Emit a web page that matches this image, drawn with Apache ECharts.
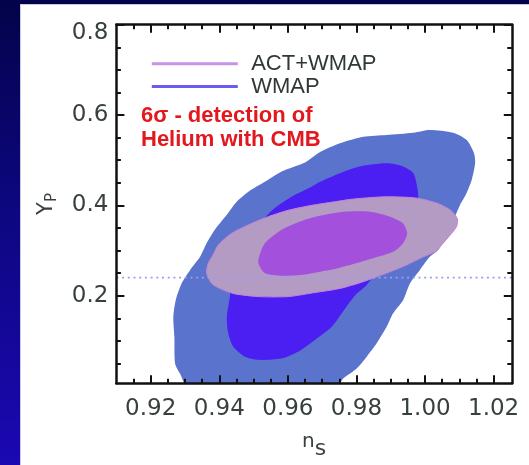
<!DOCTYPE html>
<html>
<head>
<meta charset="utf-8">
<script src="https://cdn.jsdelivr.net/npm/echarts@6/dist/echarts.min.js"></script>
<style>
  html, body { margin: 0; padding: 0; width: 529px; height: 465px; overflow: hidden; }
  body { background: linear-gradient(180deg, #03034a 0%, #0d0780 45%, #1b08b2 100%); position: relative; }
  #panel { position: absolute; left: 20px; top: 4px; right: 0; bottom: 0; background: #ffffff; border-left: 1px solid #c9c9e4; border-top: 1px solid #c9c9e4; box-sizing: border-box; }
  #chart { position: absolute; left: 0; top: 0; width: 529px; height: 465px; }
</style>
</head>
<body>
<div id="panel"></div>
<div id="chart"></div>
<script>
// ---- axis ranges & ticks ----
const xMin = 0.91, xMax = 1.0253;
const yMin = 0.006, yMax = 0.8;
const xMajorTicks = [0.92, 0.94, 0.96, 0.98, 1.00, 1.02];
const xMinorTicks = [0.915, 0.925, 0.93, 0.935, 0.945, 0.95, 0.955, 0.965, 0.97, 0.975, 0.985, 0.99, 0.995, 1.005, 1.01, 1.015];
const yMajorTicks = [0.2, 0.4, 0.6, 0.8];
const yMinorTicks = [0.05, 0.1, 0.15, 0.25, 0.3, 0.35, 0.45, 0.5, 0.55, 0.65, 0.7, 0.75];

// ---- BBN prediction (dotted line) ----
const bbnYp = 0.24;

// ---- contours [n_s, Y_P] ----
const wmap95 = [[0.9363,0.316],[0.9344,0.286],[0.9315,0.257],[0.9290,0.227],[0.9273,0.190],[0.9266,0.153],[0.9269,0.109],[0.9271,0.050],[0.9285,0.028],[0.9315,-0.01],[0.9732,-0.01],[0.9762,0.017],[0.9801,0.039],[0.9830,0.065],[0.9859,0.0945],[0.9888,0.131],[0.9907,0.161],[0.9936,0.190],[0.9956,0.227],[0.9985,0.257],[1.0014,0.286],[1.0038,0.301],[1.0064,0.339],[1.0087,0.375],[1.0102,0.401],[1.0121,0.427],[1.0136,0.456],[1.0146,0.493],[1.0143,0.515],[1.0121,0.545],[1.0082,0.561],[1.0014,0.567],[0.9966,0.561],[0.9888,0.556],[0.9820,0.552],[0.9752,0.5375],[0.9694,0.518],[0.9650,0.495],[0.9582,0.475],[0.9533,0.452],[0.9485,0.430],[0.9451,0.408],[0.9422,0.379],[0.9387,0.346]];
const wmap68 = [[0.9533,0.372],[0.9460,0.290],[0.9434,0.224],[0.9431,0.198],[0.9422,0.153],[0.9426,0.117],[0.9441,0.087],[0.9475,0.065],[0.9514,0.058],[0.9582,0.061],[0.9630,0.076],[0.9679,0.102],[0.9728,0.131],[0.9771,0.176],[0.9801,0.205],[0.9825,0.220],[0.9869,0.261],[0.9918,0.312],[0.9962,0.368],[0.9980,0.416],[0.9977,0.441],[0.9966,0.471],[0.9936,0.486],[0.9888,0.493],[0.9810,0.486],[0.9752,0.471],[0.9694,0.452],[0.9669,0.441],[0.9611,0.419],[0.9562,0.394]];
const act95 = [[0.9737,0.408],[0.9791,0.414],[0.9888,0.419],[0.9976,0.416],[1.0034,0.405],[1.0073,0.390],[1.0094,0.371],[1.0092,0.353],[1.0073,0.334],[1.0048,0.312],[1.0034,0.299],[0.9995,0.286],[0.9946,0.268],[0.9888,0.250],[0.9820,0.231],[0.9752,0.216],[0.9679,0.207],[0.9601,0.198],[0.9514,0.198],[0.9446,0.204],[0.9407,0.214],[0.9378,0.227],[0.9363,0.250],[0.9368,0.272],[0.9383,0.292],[0.9397,0.312],[0.9436,0.338],[0.9494,0.360],[0.9543,0.375],[0.9601,0.389],[0.9669,0.400]];
const act68 = [[0.9762,0.386],[0.9839,0.386],[0.9898,0.375],[0.9936,0.360],[0.9948,0.338],[0.9936,0.316],[0.9907,0.297],[0.9849,0.283],[0.9771,0.266],[0.9737,0.259],[0.9694,0.253],[0.9650,0.247],[0.9582,0.244],[0.9533,0.250],[0.9514,0.272],[0.9516,0.286],[0.9533,0.316],[0.9582,0.346],[0.9650,0.368],[0.9694,0.377]];

const ink = '#111111';
const labelColor = '#37403b';
const tickFont = 'DejaVu Sans';

function contourSeries(name, pts, fill, stroke) {
  return {
    type: 'custom', name: name, data: pts, clip: true, silent: true,
    xAxisIndex: 0, yAxisIndex: 0,
    encode: { x: 0, y: 1 },
    renderItem: function (params, api) {
      if (params.dataIndex !== 0) return null;
      const points = pts.map(function (p) { return api.coord(p); });
      return {
        type: 'polygon',
        shape: { points: points, smooth: 0.25 },
        style: { fill: fill, stroke: stroke || null, lineWidth: stroke ? 1 : 0 }
      };
    }
  };
}

function tickAxis(pos, ticks, len, showLine, extra) {
  const isX = (pos === 'top' || pos === 'bottom');
  const base = {
    type: 'value', position: pos, z: 10,
    min: isX ? xMin : yMin, max: isX ? xMax : yMax,
    axisLine: { show: showLine, onZero: false, lineStyle: { color: ink, width: 2.5 } },
    axisTick: { show: true, inside: true, length: len, customValues: ticks, lineStyle: { color: ink, width: 2 } },
    axisLabel: { show: false },
    splitLine: { show: false }
  };
  return Object.assign(base, extra || {});
}

const chart = echarts.init(document.getElementById('chart'), null, { renderer: 'canvas' });
chart.setOption({
  animation: false,
  backgroundColor: 'transparent',
  grid: { left: 116.4, top: 24.7, width: 395.4, height: 358.6, containLabel: false },
  legend: {
    orient: 'vertical', left: 151.8, top: 52.8, padding: 0,
    itemWidth: 86, itemHeight: 3, itemGap: 0.7, icon: 'rect',
    selectedMode: false,
    textStyle: { fontFamily: 'Liberation Sans', fontSize: 22, lineHeight: 22, color: '#2f3833', padding: [0, 0, 0, 8.4] },
    data: [
      { name: 'ACT+WMAP', itemStyle: { color: '#c793e8' } },
      { name: 'WMAP', itemStyle: { color: '#6a5cf0' } }
    ]
  },
  xAxis: [
    tickAxis('bottom', xMajorTicks, 8, true, {
      axisLabel: {
        show: true, customValues: xMajorTicks, margin: 14,
        formatter: function (v) { return v.toFixed(2); },
        fontFamily: tickFont, fontSize: 23, color: labelColor
      },
      name: '{n|n}{s|s}', nameLocation: 'middle', nameGap: 43.7,
      nameTextStyle: {
        color: labelColor, fontFamily: tickFont,
        rich: {
          n: { fontFamily: tickFont, fontSize: 20, lineHeight: 20, verticalAlign: 'top', color: labelColor },
          s: { fontFamily: tickFont, fontSize: 22, lineHeight: 22, padding: [12.8, 0, 0, 0], color: labelColor }
        }
      }
    }),
    tickAxis('bottom', xMinorTicks, 4.5, false),
    tickAxis('top', xMajorTicks, 8, true),
    tickAxis('top', xMinorTicks, 4.5, false)
  ],
  yAxis: [
    tickAxis('left', yMajorTicks, 8, true, {
      axisLabel: {
        show: true, customValues: yMajorTicks, margin: 8,
        formatter: function (v) { return v === 0.8 ? '{t|0.8}' : v.toFixed(1); },
        fontFamily: tickFont, fontSize: 23, color: labelColor,
        rich: { t: { fontFamily: tickFont, fontSize: 23, color: labelColor, padding: [16, 0, 0, 0] } }
      },
      name: '{y|Y}{p|P}', nameLocation: 'middle', nameGap: 58, nameRotate: 90,
      nameTextStyle: {
        color: labelColor, fontFamily: tickFont,
        rich: {
          y: { fontFamily: tickFont, fontSize: 21, lineHeight: 22, verticalAlign: 'top', color: labelColor },
          p: { fontFamily: tickFont, fontSize: 15, lineHeight: 15, padding: [9.5, 0, 0, 0], color: labelColor }
        }
      }
    }),
    tickAxis('left', yMinorTicks, 4.5, false),
    tickAxis('right', yMajorTicks, 8, true),
    tickAxis('right', yMinorTicks, 4.5, false)
  ],
  graphic: [
    {
      type: 'text', x: 141, y: 104.2, z: 20, silent: true,
      style: {
        text: '6σ - detection of\nHelium with CMB',
        font: 'bold 22px "Liberation Sans"', fill: '#e3171e',
        lineHeight: 24, verticalAlign: 'top', align: 'left'
      }
    }
  ],
  series: [
    {
      type: 'line', name: 'BBN', silent: true, symbol: 'none', xAxisIndex: 0, yAxisIndex: 0,
      data: [[xMin, bbnYp], [xMax, bbnYp]],
      lineStyle: { color: '#9c9cf0', width: 1.6, type: [2, 3.7] }
    },
    contourSeries('WMAP', wmap95, '#5a73cc'),
    contourSeries('WMAP', wmap68, '#4b1ef2'),
    contourSeries('ACT+WMAP', act95, '#b39bc3', '#c483d8'),
    contourSeries('ACT+WMAP', act68, '#a350dc')
  ]
});
</script>
</body>
</html>
